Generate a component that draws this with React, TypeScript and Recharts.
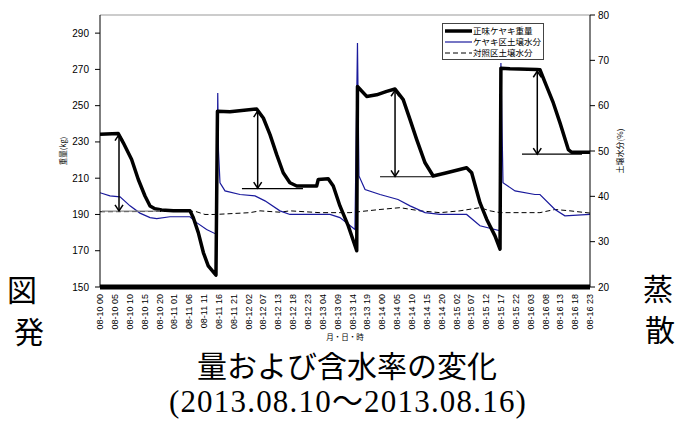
import React from 'react'
import {
  Legend,
  Line,
  LineChart,
  ReferenceLine,
  XAxis,
  YAxis,
} from 'recharts'

// category labels under the axis (month-day hour), one every 5 records
const xLabels = [
  '08-10 00', '08-10 05', '08-10 10', '08-10 15', '08-10 20', '08-11 01',
  '08-11 06', '08-11 11', '08-11 16', '08-11 21', '08-12 02', '08-12 07',
  '08-12 13', '08-12 18', '08-12 23', '08-13 04', '08-13 09', '08-13 14',
  '08-13 19', '08-14 00', '08-14 05', '08-14 10', '08-14 15', '08-14 20',
  '08-15 02', '08-15 07', '08-15 12', '08-15 17', '08-15 22', '08-16 03',
  '08-16 08', '08-16 13', '08-16 18', '08-16 23',
]

const weightTicks = [150, 170, 190, 210, 230, 250, 270, 290]
const moistureTicks = [20, 30, 40, 50, 60, 70, 80]

// 正味ケヤキ重量 (kg), x in label slots
const weightX = [
  0, 1.23, 1.57, 2.13, 2.58, 3.03, 3.37, 3.7, 4.15, 4.94, 6.06, 6.28, 6.62,
  6.96, 7.29, 7.81, 7.91, 8.75, 10.55, 11.0, 11.45, 11.9, 12.34, 12.79, 13.25,
  14.59, 14.7, 15.37, 15.71, 16.16, 16.72, 17.29, 17.34, 17.96, 18.63, 19.31,
  19.87, 20.42, 20.88, 21.33, 21.89, 22.44, 23.35, 24.69, 25.03, 25.59, 26.04,
  26.6, 26.94, 27.0, 27.61, 29.41, 29.63, 30.08, 30.53, 30.98, 31.54, 31.76, 33,
]
const weightKg = [
  234.3, 234.6, 229.5, 220.3, 209.3, 200.2, 194.7, 193.2, 192.5, 192, 192,
  188.3, 180, 169, 161.7, 156.6, 246.9, 246.7, 248.2, 243.2, 234, 223, 213,
  207.5, 205.7, 205.7, 209.3, 209.7, 205.7, 194.7, 183.7, 170, 260.6, 255.1,
  256, 257.9, 259.2, 253.3, 242.3, 231.3, 218.5, 211.2, 213, 215.8, 213, 196.5,
  187.4, 178.2, 170.9, 270.7, 270.3, 270, 269.8, 260.6, 251.5, 240.5, 225.8,
  224.3, 224.3,
]

// ケヤキ区土壌水分 (%)
const keyakiX = [
  0, 0.67, 1.35, 2.02, 2.69, 3.37, 3.82, 4.71, 6.06, 6.51, 7.18, 7.86, 7.93,
  7.98, 8.08, 8.42, 9.43, 10.44, 11.11, 12.12, 12.79, 15.49, 16.16, 17.17,
  17.34, 17.44, 17.85, 18.86, 20.07, 20.88, 21.89, 22.9, 24.69, 25.59, 26.94,
  27.0, 27.14, 27.95, 29.29, 29.63, 30.64, 31.31, 33,
]
const keyakiPct = [
  40.8, 40.1, 39.9, 37.9, 36.3, 35.3, 35.1, 35.5, 35.5, 34.2, 32.7, 31.6, 62.8,
  50, 43, 41.2, 40.4, 40.1, 39, 36.8, 36, 36, 35.3, 32.7, 73.8, 44.5, 41.5,
  40.4, 39.3, 37.9, 36.4, 36, 36, 33.5, 32.4, 69.4, 43, 41.2, 40.4, 40.4, 37.1,
  35.7, 36,
]

// 対照区土壌水分 (%)
const controlX = [
  0, 6.4, 7.07, 7.74, 10.1, 10.77, 12.12, 12.79, 14.81, 16.84, 18.86, 20.2,
  21.55, 22.9, 24.24, 25.59, 26.26, 26.94, 29.63, 30.64, 31.65, 33,
]
const controlPct = [
  36.6, 36.7, 36, 36, 36.4, 36.8, 36.5, 36.8, 36.4, 36.4, 37.1, 37.5, 36.8,
  36.4, 36.8, 37.5, 36.8, 36.4, 36.4, 37.1, 36.8, 36.3,
]

// evapotranspiration arrows (kg) and their base lines
const arrowX = [1.28, 10.62, 19.87, 29.45]
const arrowTop = [234, 247, 258.5, 269]
const arrowBottom = [192, 204.5, 211, 223.3]
const baseFrom = [0.13, 9.56, 18.86, 28.42]
const baseTo = [4.04, 13.67, 22.42, 32.46]
const baseY = [191.8, 204.3, 210.8, 223.3]

const toPoints = (xs: number[], vs: number[]) =>
  xs.map((x, i) => ({ x, v: vs[i] }))

const weightData = toPoints(weightX, weightKg)
const keyakiData = toPoints(keyakiX, keyakiPct)
const controlData = toPoints(controlX, controlPct)

const SANS = "'Liberation Sans', Arial, sans-serif"
const CJK = "'Noto Sans CJK JP', sans-serif"

const series = [
  { name: '正味ケヤキ重量', color: '#000', width: 3.5, dash: undefined },
  { name: 'ケヤキ区土壌水分', color: '#1a1a9c', width: 1.2, dash: undefined },
  { name: '対照区土壌水分', color: '#000', width: 1, dash: '5 3' },
]

const SlotTick = ({ x, y, payload }: any) => (
  <text
    x={x}
    y={y}
    transform={`rotate(-90 ${x} ${y})`}
    textAnchor="end"
    dy="0.35em"
    fontSize={9}
    fontFamily={SANS}
    fill="#000"
  >
    {xLabels[payload.value]}
  </text>
)

const ArrowShape = (props: any) => {
  const { x1, y1, y2 } = props
  const top = Math.min(y1, y2)
  const bottom = Math.max(y1, y2)
  return (
    <g stroke="#000" strokeWidth={1.5} fill="none">
      <line x1={x1} y1={top} x2={x1} y2={bottom} />
      <path d={`M${x1 - 4},${top + 6}L${x1},${top}L${x1 + 4},${top + 6}`} />
      <path
        d={`M${x1 - 4},${bottom - 6}L${x1},${bottom}L${x1 + 4},${bottom - 6}`}
      />
    </g>
  )
}

const LegendBox = () => (
  <div
    style={{
      border: '1px solid #444',
      background: '#fff',
      padding: '1px 2px',
      width: 102,
      boxSizing: 'border-box',
      fontFamily: CJK,
      fontSize: 8.5,
      lineHeight: '11px',
      color: '#000',
    }}
  >
    {series.map((s) => (
      <div key={s.name} style={{ display: 'flex', alignItems: 'center' }}>
        <svg width={27} height={6}>
          <line
            x1={0}
            y1={3}
            x2={27}
            y2={3}
            stroke={s.color}
            strokeWidth={s.width}
            strokeDasharray={s.dash}
          />
        </svg>
        <span style={{ marginLeft: 1, whiteSpace: 'nowrap' }}>{s.name}</span>
      </div>
    ))}
  </div>
)

const bigText: React.CSSProperties = {
  position: 'absolute',
  fontFamily: CJK,
  fontSize: 30,
  lineHeight: '30px',
  color: '#000',
}

export default function App() {
  return (
    <div
      style={{
        position: 'absolute',
        left: 0,
        top: 0,
        width: 677,
        height: 435,
        background: '#fff',
        overflow: 'hidden',
      }}
    >
      <LineChart
        width={677}
        height={360}
        margin={{ top: 15, right: 0, bottom: 13, left: 0 }}
      >
        <XAxis
          type="number"
          dataKey="x"
          domain={[0, 33]}
          ticks={xLabels.map((_, i) => i)}
          interval={0}
          tick={<SlotTick />}
          tickLine={false}
          tickSize={0}
          tickMargin={7}
          axisLine={{ stroke: '#000', strokeWidth: 5 }}
          height={60}
          allowDataOverflow
          label={{
            value: '月・日・時',
            position: 'insideBottom',
            offset: 7,
            fontSize: 7.5,
            fontFamily: CJK,
            fill: '#000',
          }}
        />
        <YAxis
          yAxisId="left"
          domain={[150, 300]}
          ticks={weightTicks}
          width={100}
          tickSize={5}
          tickMargin={6}
          tick={{ fontSize: 10, fill: '#000', fontFamily: SANS }}
          axisLine={{ stroke: '#000' }}
          tickLine={{ stroke: '#000' }}
          allowDataOverflow
          label={{
            value: '重量(kg)',
            angle: -90,
            position: 'insideLeft',
            offset: 63,
            textAnchor: 'middle',
            fontSize: 7.5,
            fontFamily: CJK,
            fill: '#000',
          }}
        />
        <YAxis
          yAxisId="right"
          orientation="right"
          domain={[20, 80]}
          ticks={moistureTicks}
          width={87}
          tickSize={5}
          tickMargin={3}
          tick={{ fontSize: 10, fill: '#000', fontFamily: SANS }}
          axisLine={{ stroke: '#000' }}
          tickLine={{ stroke: '#000' }}
          allowDataOverflow
          label={{
            value: '土壌水分(%)',
            angle: -90,
            position: 'insideLeft',
            offset: 30,
            textAnchor: 'middle',
            fontSize: 8,
            fontFamily: CJK,
            fill: '#000',
          }}
        />
        <ReferenceLine yAxisId="left" y={300} stroke="#999" />
        <Line
          yAxisId="right"
          data={controlData}
          dataKey="v"
          name={series[2].name}
          type="linear"
          stroke={series[2].color}
          strokeWidth={series[2].width}
          strokeDasharray={series[2].dash}
          dot={false}
          activeDot={false}
          isAnimationActive={false}
        />
        <Line
          yAxisId="right"
          data={keyakiData}
          dataKey="v"
          name={series[1].name}
          type="linear"
          stroke={series[1].color}
          strokeWidth={series[1].width}
          dot={false}
          activeDot={false}
          isAnimationActive={false}
        />
        <Line
          yAxisId="left"
          data={weightData}
          dataKey="v"
          name={series[0].name}
          type="linear"
          stroke={series[0].color}
          strokeWidth={series[0].width}
          strokeLinejoin="round"
          dot={false}
          activeDot={false}
          isAnimationActive={false}
        />
        {baseY.map((y, i) => (
          <ReferenceLine
            key={`base-${i}`}
            yAxisId="left"
            ifOverflow="visible"
            segment={[
              { x: baseFrom[i], y },
              { x: baseTo[i], y },
            ]}
            stroke={i === 0 ? '#888' : '#000'}
            strokeWidth={1.2}
          />
        ))}
        {arrowX.map((x, i) => (
          <ReferenceLine
            key={`arrow-${i}`}
            yAxisId="left"
            ifOverflow="visible"
            segment={[
              { x, y: arrowTop[i] },
              { x, y: arrowBottom[i] },
            ]}
            shape={ArrowShape}
          />
        ))}
        <Legend
          content={<LegendBox />}
          verticalAlign="middle"
          align="center"
          wrapperStyle={{ left: 442, top: 23, width: 102, height: 36 }}
        />
      </LineChart>

      <div style={{ ...bigText, left: 7, top: 273 }}>図</div>
      <div style={{ ...bigText, left: 14, top: 315 }}>発</div>
      <div style={{ ...bigText, left: 643, top: 272 }}>蒸</div>
      <div style={{ ...bigText, left: 645, top: 313 }}>散</div>
      <div
        style={{ ...bigText, left: 0, width: 694, top: 349, textAlign: 'center' }}
      >
        量および含水率の変化
      </div>
      <div
        style={{
          ...bigText,
          left: 0,
          width: 696,
          top: 387,
          textAlign: 'center',
          fontFamily: "'Liberation Serif', 'Noto Sans CJK JP', serif",
          fontSize: 31,
          letterSpacing: 1.2,
        }}
      >
        (2013.08.10～2013.08.16)
      </div>
    </div>
  )
}
